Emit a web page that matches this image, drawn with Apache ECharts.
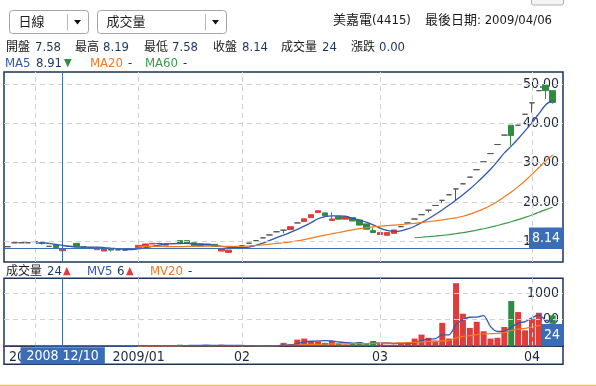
<!DOCTYPE html>
<html><head><meta charset="utf-8">
<script src="https://cdn.jsdelivr.net/npm/echarts@6/dist/echarts.min.js"></script>
<style>html,body{margin:0;padding:0;background:#fff;}#c{width:596px;height:386px;}</style>
</head><body><div id="c"></div>
<script>
// ---- data ----
const dates = [
'2008/11/24','2008/11/25','2008/11/27','2008/11/28',
'2008/12/01','2008/12/03','2008/12/05','2008/12/08','2008/12/10','2008/12/11','2008/12/15','2008/12/17','2008/12/18','2008/12/19','2008/12/22','2008/12/24','2008/12/26','2008/12/29','2008/12/31',
'2009/01/02','2009/01/05','2009/01/06','2009/01/07','2009/01/08','2009/01/09','2009/01/12','2009/01/13','2009/01/14','2009/01/15','2009/01/16','2009/01/17','2009/01/19','2009/01/20','2009/01/21',
'2009/02/02','2009/02/03','2009/02/04','2009/02/05','2009/02/06','2009/02/09','2009/02/10','2009/02/11','2009/02/12','2009/02/13','2009/02/16','2009/02/17','2009/02/18','2009/02/19','2009/02/20','2009/02/23','2009/02/24','2009/02/25','2009/02/26','2009/02/27',
'2009/03/02','2009/03/03','2009/03/04','2009/03/05','2009/03/06','2009/03/09','2009/03/10','2009/03/11','2009/03/12','2009/03/13','2009/03/16','2009/03/17','2009/03/18','2009/03/19','2009/03/20','2009/03/23','2009/03/24','2009/03/25','2009/03/26','2009/03/27','2009/03/30','2009/03/31',
'2009/04/01','2009/04/02','2009/04/03','2009/04/06'];
const open = [8.6,9.6,9.6,9.6,9.9,9.55,8.7,9.1,7.58,8.7,9.45,8.55,8.15,7.85,7.5,8.1,7.8,7.75,8.0,
8.35,8.75,9.3,9.4,9.0,9.4,10.15,10.15,9.6,9.35,9.3,9.2,7.5,7.15,8.29,
8.87,9.49,10.15,10.85,11.6,12.4,12.8,12.95,14.65,15.0,16.0,17.3,17.2,15.3,16.25,15.6,16.0,15.4,14.4,12.7,
11.7,11.5,12.0,13.7,14.65,15.65,16.75,17.9,19.1,20.4,21.8,23.3,24.6,26.3,28.2,30.2,32.3,34.6,37.0,39.5,39.5,42.3,
45.2,48.3,49.8,48.3];
const close = [8.6,9.6,9.6,9.6,9.9,9.4,8.7,8.4,8.14,8.7,8.6,8.55,8.4,8.3,8.1,7.75,7.8,7.75,8.0,
8.95,9.3,9.45,9.4,9.35,9.4,9.5,9.5,8.85,8.75,9.0,8.7,8.05,7.75,8.29,
8.87,9.49,10.15,10.85,11.6,12.4,12.8,13.7,14.65,15.7,16.75,17.75,16.5,15.65,15.6,16.25,15.15,14.1,13.05,12.2,
12.2,12.2,12.85,13.7,14.65,15.65,16.75,17.9,19.1,20.4,21.8,23.3,24.6,26.3,28.2,30.2,32.3,34.6,37.0,36.9,39.5,42.3,
45.2,48.3,48.3,45.3];
const low = [8.6,9.6,9.6,9.6,9.9,9.15,8.7,8.4,7.58,8.7,8.6,8.55,8.15,7.85,7.5,7.35,7.8,7.75,8.0,
8.35,8.75,9.3,9.4,9.0,9.4,9.5,9.5,8.85,8.75,9.0,8.7,7.5,7.15,8.29,
8.87,9.49,10.15,10.85,11.6,12.4,12.0,12.95,14.65,15.0,16.0,17.3,16.5,15.3,15.6,15.6,15.15,14.1,13.05,12.2,
11.7,11.5,12.0,13.7,14.65,15.65,16.75,17.3,19.1,19.7,21.8,20.5,24.6,26.3,28.2,30.2,32.3,34.6,37.0,34.3,39.5,42.3,
42.7,48.3,46.2,45.0];
const high = [8.6,9.6,9.6,9.6,9.9,9.55,8.7,9.1,8.19,8.7,9.45,8.55,8.4,8.3,8.1,8.1,7.8,7.75,8.0,
8.95,9.3,9.45,9.6,9.35,9.4,10.15,10.15,9.6,9.35,9.3,9.2,8.05,7.75,8.29,
8.87,9.49,10.15,10.85,11.6,12.4,12.8,13.7,14.65,15.7,16.75,17.9,17.2,17.35,16.25,16.25,16.0,15.4,14.4,13.45,
12.2,12.2,12.85,13.7,14.65,15.65,16.75,17.9,19.1,20.4,21.8,23.3,24.6,26.3,28.2,30.2,32.3,34.6,37.0,39.5,39.5,42.3,
45.2,48.3,49.9,48.3];
const volume = [5,3,2,4,1,2,1,2,24,3,15,2,10,8,12,6,2,3,2,
20,25,8,3,10,2,30,20,25,15,10,12,30,25,5,
4,3,5,6,10,20,64,40,125,145,100,90,65,100,50,35,45,80,40,100,
60,30,30,60,80,145,220,160,110,440,145,1185,612,345,460,282,145,160,363,850,643,300,
518,630,350,580];
const priceTicks = [10,20,30,40,50];
const volumeTicks = [500,1000];
const crossIndex = 8;

// ---- styling ----
const FONT = "Tahoma, 'DejaVu Sans Condensed', 'DejaVu Sans', 'Noto Sans CJK TC', sans-serif";
const RED = '#e03c3c', GREEN = '#2f8c3f', DOJI = '#555555';
const BLUE = '#3158b0', ORANGE = '#f5781e', MGREEN = '#3a9a4a';
const CROSS = '#3a6db5', NAVY = '#1b3358', GRID = '#d0d0d0';
const TXT = '#1e2a3a', VAL = '#1c355e';

function movingAverage(arr, n) {
  return arr.map((_, i) => i < n - 1 ? '-' : +(arr.slice(i - n + 1, i + 1).reduce((a, b) => a + b, 0) / n).toFixed(3));
}
const axisDates = dates.concat(['']);
const candles = dates.map((d, i) => [open[i], close[i], low[i], high[i]]);
const upDay = i => close[i] > open[i] ? true : close[i] < open[i] ? false : (i === 0 || close[i] >= close[i - 1]);
const volData = volume.map((v, i) => ({ value: v, itemStyle: { color: upDay(i) ? RED : GREEN } }));
const labelIdx = [];
for (let i = 1; i < dates.length; i++) if (dates[i].slice(0, 7) !== dates[i - 1].slice(0, 7)) labelIdx.push(i);
const labelText = i => {
  const d = dates[i];
  if (i === labelIdx[0] || d.slice(5, 7) === '01') return d.slice(0, 7);
  return d.slice(5, 7);
};
const crossDate = dates[crossIndex];

function text(x, y, s, color, size, align) {
  return { type: 'text', x: x, y: y, silent: true, style: { text: s, fill: color, font: (size || 13) + 'px ' + FONT, align: align || 'left', verticalAlign: 'middle' } };
}
function dropdown(x, w, label, divX) {
  return [
    { type: 'rect', shape: { x: x, y: 10.5, width: w, height: 23, r: 3 }, style: { fill: '#fff', stroke: '#a4a4a4', lineWidth: 1 } },
    text(x + 9, 22.5, label, '#222', 13),
    { type: 'line', shape: { x1: divX, y1: 14, x2: divX, y2: 30.5 }, style: { stroke: '#b8b8b8', lineWidth: 1 } },
    { type: 'polygon', shape: { points: [[divX + 6.5, 20], [divX + 13.5, 20], [divX + 10, 24.5]] }, style: { fill: '#111' } }
  ];
}
const CJK = 12;
const g = [];
g.push(...dropdown(9.5, 79, '日線', 67.5));
g.push(...dropdown(97.5, 129, '成交量', 205.5));
g.push({ type: 'rect', shape: { x: 531.5, y: -6, width: 32, height: 11, r: 2 }, style: { fill: '#f4f4f4', stroke: '#b0b0b0' } });
g.push(text(333, 20.5, '美嘉電(4415)', '#1a1a1a', 13));
g.push(text(425, 20.5, '最後日期: ' + dates[dates.length - 1], '#1a1a1a', 13));
const infoY = 47.5;
[[6, '開盤'], [75, '最高'], [144, '最低'], [213, '收盤'], [281, '成交量'], [351, '漲跌']].forEach(a => g.push(text(a[0], infoY, a[1], '#1a1a1a', CJK)));
[[35, open[crossIndex].toFixed(2)], [103, high[crossIndex].toFixed(2)], [172, low[crossIndex].toFixed(2)], [242, close[crossIndex].toFixed(2)], [322, String(volume[crossIndex])], [379, '0.00']].forEach(a => g.push(text(a[0], infoY, a[1], VAL, 13)));
const ma5 = movingAverage(close, 5), ma20 = movingAverage(close, 20), ma60 = movingAverage(close, 60);
const mv5 = movingAverage(volume, 5), mv20 = movingAverage(volume, 20);
g.push(text(5, 63.5, 'MA5', BLUE, 13), text(36, 63.5, ma5[crossIndex].toFixed(2), VAL, 13), text(64, 63, '▼', GREEN, 11));
g.push(text(90, 63.5, 'MA20', ORANGE, 13), text(128, 63.5, '-', VAL, 13));
g.push(text(145, 63.5, 'MA60', MGREEN, 13), text(183, 63.5, '-', VAL, 13));
g.push(text(6, 271.5, '成交量', '#1a1a1a', CJK), text(47, 271.5, String(volume[crossIndex]), VAL, 13), text(63, 271, '▲', RED, 11));
g.push(text(87, 271.5, 'MV5', BLUE, 13), text(117, 271.5, String(Math.round(mv5[crossIndex])), VAL, 13), text(126, 271, '▲', RED, 11));
g.push(text(150, 271.5, 'MV20', ORANGE, 13), text(188, 271.5, '-', VAL, 13));
g.push({ type: 'rect', shape: { x: 4, y: 346.3, width: 559, height: 18 }, style: { fill: 'none', stroke: NAVY, lineWidth: 1.5 } });
g.push({ type: 'line', shape: { x1: 0, y1: 385.5, x2: 596, y2: 385.5 }, style: { stroke: '#f0c040', lineWidth: 1.5 } });

const labelBox = { show: true, backgroundColor: CROSS, color: '#fff', fontSize: 14, fontFamily: FONT, distance: 0 };

const option = {
  animation: false,
  textStyle: { fontFamily: FONT },
  graphic: g,
  grid: [
    { left: 4, top: 72, width: 559, height: 190, show: true, borderColor: NAVY, borderWidth: 1.5, backgroundColor: '#fff' },
    { left: 4, top: 278.3, width: 559, height: 68, show: true, borderColor: NAVY, borderWidth: 1.5, backgroundColor: '#fff' }
  ],
  xAxis: [
    { type: 'category', gridIndex: 0, data: axisDates, boundaryGap: true, axisLine: { show: false }, axisTick: { show: false }, axisLabel: { show: false }, splitLine: { show: false } },
    { type: 'category', gridIndex: 1, data: axisDates, boundaryGap: true, axisLine: { show: false }, axisTick: { show: false }, splitLine: { show: false },
      axisLabel: { show: true, interval: (i) => labelIdx.indexOf(i) >= 0, formatter: (v, i) => labelText(i), margin: 4, fontSize: 14, color: TXT, fontFamily: FONT } }
  ],
  yAxis: [
    { type: 'value', gridIndex: 0, position: 'right', min: 4.71, max: 53.05, axisLine: { show: false }, axisTick: { show: false, customValues: priceTicks }, splitLine: { show: false },
      axisLabel: { inside: true, margin: 4, customValues: priceTicks, formatter: v => v.toFixed(2), fontSize: 14, color: TXT, fontFamily: FONT } },
    { type: 'value', gridIndex: 1, position: 'right', min: 0, max: 1277, axisLine: { show: false }, axisTick: { show: false, customValues: volumeTicks }, splitLine: { show: false },
      axisLabel: { inside: true, margin: 4, customValues: volumeTicks, formatter: v => String(v), fontSize: 14, color: TXT, fontFamily: FONT } }
  ],
  series: [
    { type: 'line', xAxisIndex: 0, yAxisIndex: 0, data: [], z: 1, silent: true,
      markLine: { silent: true, symbol: ['none', 'none'], animation: false, label: { show: false }, lineStyle: { color: GRID, type: [5, 4], width: 1 },
        data: priceTicks.map(v => ({ yAxis: v })).concat(labelIdx.map(i => ({ xAxis: dates[i] }))) } },
    { type: 'line', xAxisIndex: 1, yAxisIndex: 1, data: [], z: 1, silent: true,
      markLine: { silent: true, symbol: ['none', 'none'], animation: false, label: { show: false }, lineStyle: { color: GRID, type: [5, 4], width: 1 },
        data: volumeTicks.map(v => ({ yAxis: v })).concat(labelIdx.map(i => ({ xAxis: dates[i] }))) } },
    { type: 'candlestick', xAxisIndex: 0, yAxisIndex: 0, data: candles, barWidth: 6, z: 2,
      itemStyle: { color: RED, color0: GREEN, borderColor: RED, borderColor0: GREEN, borderColorDoji: DOJI, borderWidth: 1 } },
    { type: 'line', xAxisIndex: 0, yAxisIndex: 0, data: ma5, showSymbol: false, smooth: 0.25, lineStyle: { color: BLUE, width: 1.3 }, z: 3 },
    { type: 'line', xAxisIndex: 0, yAxisIndex: 0, data: ma20, showSymbol: false, smooth: 0.25, lineStyle: { color: ORANGE, width: 1.2 }, z: 3 },
    { type: 'line', xAxisIndex: 0, yAxisIndex: 0, data: ma60, showSymbol: false, smooth: 0.25, lineStyle: { color: MGREEN, width: 1.2 }, z: 3 },
    { type: 'bar', xAxisIndex: 1, yAxisIndex: 1, data: volData, barWidth: 6, z: 2 },
    { type: 'line', xAxisIndex: 1, yAxisIndex: 1, data: mv5, showSymbol: false, smooth: 0.25, lineStyle: { color: BLUE, width: 1.3 }, z: 3 },
    { type: 'line', xAxisIndex: 1, yAxisIndex: 1, data: mv20, showSymbol: false, smooth: 0.25, lineStyle: { color: ORANGE, width: 1.2 }, z: 3 },
    { type: 'line', xAxisIndex: 0, yAxisIndex: 0, data: [], z: 6, silent: true,
      markLine: { silent: true, symbol: ['none', 'none'], animation: false, lineStyle: { color: CROSS, type: 'solid', width: 1 },
        data: [
          { xAxis: crossDate, label: { show: false } },
          { yAxis: close[crossIndex], label: Object.assign({}, labelBox, { position: 'insideEndTop', formatter: close[crossIndex].toFixed(2), padding: [4, 3, 3, 3] }) }
        ] } },
    { type: 'line', xAxisIndex: 1, yAxisIndex: 1, data: [], z: 6, silent: true,
      markLine: { silent: true, symbol: ['none', 'none'], animation: false, lineStyle: { color: CROSS, type: 'solid', width: 1 },
        data: [
          { xAxis: crossDate, label: Object.assign({}, labelBox, { position: 'start', distance: 1, formatter: crossDate.slice(0, 4) + ' ' + crossDate.slice(5), padding: [2, 6, 1, 6] }) },
          { yAxis: volume[crossIndex], label: Object.assign({}, labelBox, { position: 'insideEndTop', formatter: String(volume[crossIndex]), padding: [4, 3, 3, 3] }) }
        ] } }
  ]
};
const chart = echarts.init(document.getElementById('c'), null, { renderer: 'canvas' });
chart.setOption(option);
</script></body></html>
